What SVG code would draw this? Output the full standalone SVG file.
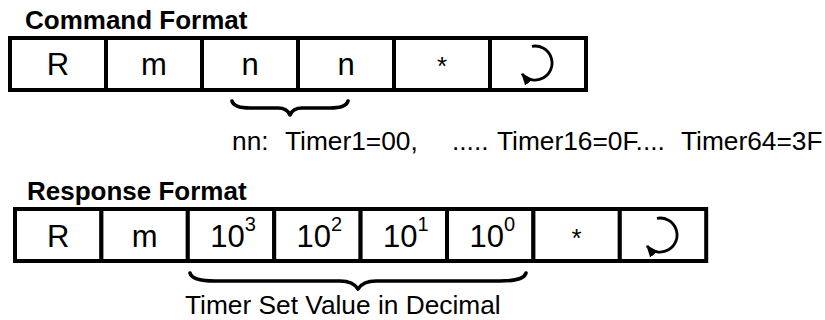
<svg xmlns="http://www.w3.org/2000/svg" width="825" height="320" viewBox="0 0 825 320">
  <style>
    .title { font-family: "Liberation Sans", Arial, sans-serif; font-weight: bold; font-size: 26px; fill: #000; }
    .cell { fill: #fff; stroke: #000; stroke-width: 4; }
    .t { font-family: "Liberation Sans", Arial, sans-serif; font-size: 31px; fill: #000; text-anchor: middle; }
    .sup { font-size: 20px; }
    .star { font-family: "Liberation Sans", Arial, sans-serif; font-size: 26px; fill: #000; text-anchor: middle; }
    .note { font-family: "Liberation Sans", Arial, sans-serif; font-size: 26.3px; fill: #000; }
    .ret { fill: none; stroke: #000; stroke-width: 2.8; marker-end: url(#ah); }
    .brace { fill: none; stroke: #000; stroke-width: 3.6; stroke-linecap: round; stroke-linejoin: round; }
  </style>
  <defs>
    <marker id="ah" viewBox="0 0 12 10" refX="11" refY="5" markerWidth="12" markerHeight="10" markerUnits="userSpaceOnUse" orient="auto">
      <path d="M0,0 L12,5 L0,10 Z" fill="#000"/>
    </marker>
  </defs>

  <rect width="825" height="320" fill="#fff"/>

  <!-- Command format -->
  <text class="title" x="25" y="29">Command Format</text>
  <g id="cmd-R"><rect class="cell" x="10" y="38" width="96" height="52"/><text class="t" x="58" y="75">R</text></g>
  <g id="cmd-m"><rect class="cell" x="106" y="38" width="96" height="52"/><text class="t" x="154" y="75">m</text></g>
  <g id="cmd-n1"><rect class="cell" x="202" y="38" width="96" height="52"/><text class="t" x="250" y="75">n</text></g>
  <g id="cmd-n2"><rect class="cell" x="298" y="38" width="96" height="52"/><text class="t" x="346" y="75">n</text></g>
  <g id="cmd-star"><rect class="cell" x="394" y="38" width="96" height="52"/><text class="star" x="442" y="75">*</text></g>
  <g id="cmd-cr"><rect class="cell" x="490" y="38" width="96" height="52"/><path class="ret" d="M532,46.3 A17,17 0 1 1 522,73.9"/></g>

  <!-- Response format -->
  <text class="title" x="27" y="200">Response Format</text>
  <g id="rsp-R"><rect class="cell" x="15" y="209" width="86.4" height="52"/><text class="t" x="58.2" y="247">R</text></g>
  <g id="rsp-m"><rect class="cell" x="101.4" y="209" width="86.4" height="52"/><text class="t" x="144.6" y="247">m</text></g>
  <g id="rsp-d3"><rect class="cell" x="187.8" y="209" width="86.4" height="52"/><text class="t" x="233" y="247">10<tspan class="sup" dy="-16">3</tspan></text></g>
  <g id="rsp-d2"><rect class="cell" x="274.2" y="209" width="86.4" height="52"/><text class="t" x="319.4" y="247">10<tspan class="sup" dy="-16">2</tspan></text></g>
  <g id="rsp-d1"><rect class="cell" x="360.6" y="209" width="86.4" height="52"/><text class="t" x="405.8" y="247">10<tspan class="sup" dy="-16">1</tspan></text></g>
  <g id="rsp-d0"><rect class="cell" x="447" y="209" width="86.4" height="52"/><text class="t" x="492.2" y="247">10<tspan class="sup" dy="-16">0</tspan></text></g>
  <g id="rsp-star"><rect class="cell" x="533.4" y="209" width="86.4" height="52"/><text class="star" x="576.6" y="247">*</text></g>
  <g id="rsp-cr"><rect class="cell" x="619.8" y="209" width="86.4" height="52"/><path class="ret" d="M657,218.3 A17,17 0 1 1 647,245.9"/></g>

  <!-- Connectors (braces) -->
  <g id="connectors">
    <path class="brace" d="M232,101 Q234,108 250,108 L278,108 Q287,108 290,115 Q293,108 302,108 L330,108 Q346,108 348,101"/>
    <path class="brace" d="M190,273 Q192,281 215,281 L340,281 Q353,281 358,289 Q363,281 376,281 L500,281 Q524,281 526,273"/>
  </g>

  <!-- Annotations -->
  <text class="note" y="150"><tspan x="232">nn:</tspan><tspan x="285">Timer1=00,</tspan><tspan x="452">.....</tspan><tspan x="497">Timer16=0F....</tspan><tspan x="681">Timer64=3F</tspan></text>
  <text class="note" x="185" y="314">Timer Set Value in Decimal</text>
</svg>
